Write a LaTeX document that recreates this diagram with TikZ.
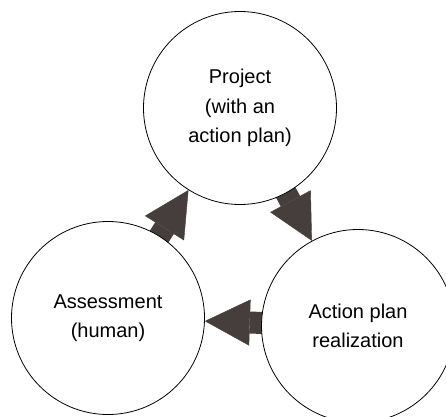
\documentclass[tikz,border=0pt]{standalone}
\usepackage{fontspec}
\setmainfont{Liberation Sans}
\usetikzlibrary{arrows.meta,backgrounds}
\definecolor{arrowgray}{RGB}{69,62,60}

\begin{document}
\begin{tikzpicture}[x=1pt, y=1pt,
    stage/.style={draw, circle, fill=white, line width=0.8pt, minimum size=193pt,
      inner sep=0pt, align=center, font=\fontsize{20}{29.5}\selectfont},
    blockarrow/.style={draw=arrowgray, line width=22pt, shorten <=-8pt,
      -{Triangle[length=45pt, width=46pt, line width=0.4pt]}}]
    \useasboundingbox (0,0) rectangle (446,416);
    \node[stage] (proj) at (240,308) {Project\\(with an\\action plan)};
    \node[stage] (real) at (358,90) {Action plan\\realization};
    \node[stage] (assess) at (108,98) {Assessment\\(human)};
    \begin{scope}[on background layer]
      \draw[blockarrow] (proj) -- (real);
      \draw[blockarrow] (real) -- (assess);
      \draw[blockarrow] (assess) -- (proj);
    \end{scope}
\end{tikzpicture}
\end{document}
